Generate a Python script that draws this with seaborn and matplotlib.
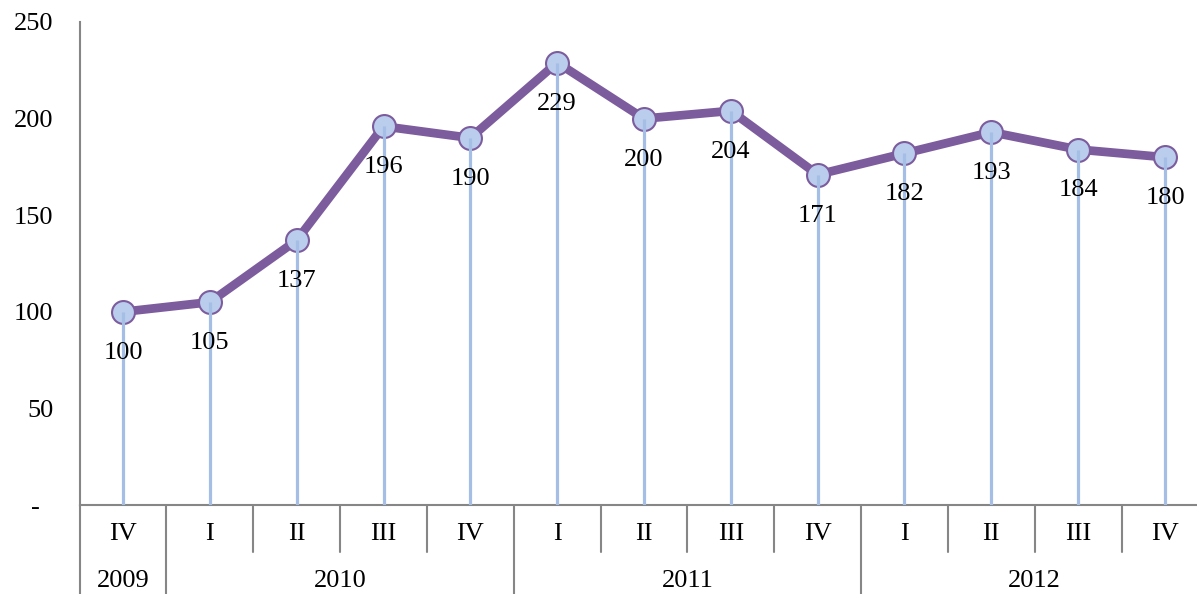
import numpy as np
import pandas as pd
import matplotlib
matplotlib.use("Agg")
import matplotlib.pyplot as plt
import seaborn as sns

# Datos del grafico (trimestres 2009 IV - 2012 IV)
quarters = ["IV", "I", "II", "III", "IV", "I", "II", "III", "IV", "I", "II", "III", "IV"]
years = ["2009", "2010", "2011", "2012"]
year_sizes = [1, 4, 4, 4]
values = [100, 105, 137, 196, 190, 229, 200, 204, 171, 182, 193, 184, 180]
y_ticks = [0, 50, 100, 150, 200, 250]
y_tick_labels = ["-  ", "50", "100", "150", "200", "250"]

df = pd.DataFrame({"pos": np.arange(len(values)), "value": values})

sns.set_style("white")
plt.rcParams["font.family"] = ["Liberation Serif", "DejaVu Serif"]
plt.rcParams["text.color"] = "black"
plt.rcParams["xtick.labelcolor"] = "black"
plt.rcParams["ytick.labelcolor"] = "black"

line_color = "#7D5C9E"
drop_color = "#A4BEE6"
axis_color = "#868686"
fs = 19

fig = plt.figure(figsize=(11.97, 5.94), dpi=100)
ax = fig.add_axes([79.6 / 1197, 89 / 594, 1128.8 / 1197, 483 / 594])

sns.lineplot(data=df, x="pos", y="value", ax=ax, color=line_color, lw=6.3,
             marker="o", markersize=16.5, markerfacecolor="#BACDEC",
             markeredgecolor=line_color, markeredgewidth=1.5, zorder=3)

# lineas verticales desde cada punto hasta el eje
ax.vlines(df["pos"], 0, df["value"], color=drop_color, lw=2.3, zorder=4)

# etiquetas de valores
for x, v in zip(df["pos"], df["value"]):
    ax.annotate(str(v), (x, v), xytext=(0, -29.5), textcoords="offset points",
                ha="center", va="center", fontsize=fs, color="black", zorder=5)

ax.set_xlim(-0.5, len(values) - 0.5)
ax.set_ylim(0, 250)
ax.set_yticks(y_ticks)
ax.set_yticklabels(y_tick_labels, fontsize=fs)
ax.set_xticks(df["pos"])
ax.set_xticklabels(quarters, fontsize=fs)
ax.tick_params(axis="x", length=0, pad=13)
ax.tick_params(axis="y", length=5, width=1.2, color=axis_color, pad=14, direction="out")
ax.set_xlabel("")
ax.set_ylabel("")

for s in ["top", "right"]:
    ax.spines[s].set_visible(False)
for s in ["left", "bottom"]:
    ax.spines[s].set_color(axis_color)
    ax.spines[s].set_linewidth(1.5)

# separadores de categorias (dos niveles)
trans = ax.get_xaxis_transform()
ends = np.cumsum(year_sizes)
year_bounds = set([-0.5] + [e - 0.5 for e in ends])
for b in np.arange(-0.5, len(values), 1.0):
    low = -0.184 if b in year_bounds else -0.098
    ax.plot([b, b], [0, low], transform=trans, color=axis_color, lw=1.5,
            clip_on=False, zorder=2)

start = 0
for yr, n in zip(years, year_sizes):
    center = start + (n - 1) / 2
    ax.text(center, -0.157, yr, transform=trans, ha="center", va="center",
            fontsize=fs)
    start += n

fig.savefig("out.png", dpi=100)
